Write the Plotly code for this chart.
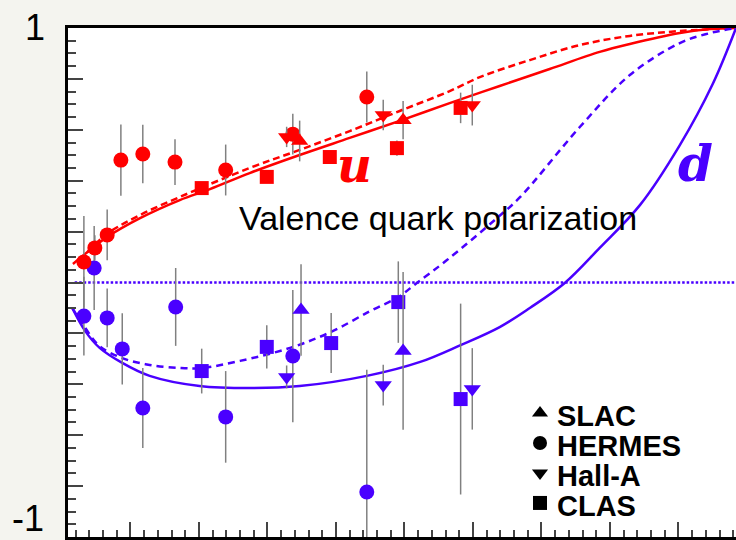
import plotly.graph_objects as go

RED = "#ff0000"
BLUE = "#4a00ff"
ERR = "#808080"

# ---------------- data ----------------
# u-quark points
slac_u_x = [0.347, 0.498]
slac_u_y = [0.556, 0.638]
slac_u_e = [0.080, 0.075]

hermes_u_x = [0.032, 0.048, 0.066, 0.086, 0.118, 0.165, 0.239, 0.337, 0.445]
hermes_u_y = [0.081, 0.136, 0.187, 0.481, 0.505, 0.473, 0.442, 0.583, 0.729]
hermes_u_e = [0.180, 0.050, 0.100, 0.140, 0.115, 0.090, 0.100, 0.080, 0.100]

halla_u_x = [0.328, 0.469, 0.599]
halla_u_y = [0.572, 0.658, 0.697]
halla_u_e = [0.040, 0.060, 0.080]

clas_u_x = [0.204, 0.299, 0.391, 0.489, 0.582]
clas_u_y = [0.371, 0.415, 0.493, 0.528, 0.686]
clas_u_e = [0.020, 0.020, 0.020, 0.030, 0.060]

# d-quark points
slac_d_x = [0.349, 0.498]
slac_d_y = [-0.108, -0.269]
slac_d_e = [0.180, 0.310]

hermes_d_x = [0.032, 0.047, 0.066, 0.088, 0.118, 0.166, 0.239, 0.337, 0.445]
hermes_d_y = [-0.132, 0.057, -0.139, -0.261, -0.493, -0.096, -0.528, -0.289, -0.823]
hermes_d_e = [0.155, 0.165, 0.115, 0.140, 0.157, 0.153, 0.180, 0.260, 0.480]

halla_d_x = [0.328, 0.469, 0.599]
halla_d_y = [-0.371, -0.403, -0.418]
halla_d_e = [0.045, 0.080, 0.160]

clas_d_x = [0.204, 0.299, 0.393, 0.491, 0.582]
clas_d_y = [-0.348, -0.253, -0.238, -0.077, -0.458]
clas_d_e = [0.088, 0.085, 0.118, 0.160, 0.375]

# model curves
u_solid_x = [0.016, 0.041, 0.066, 0.114, 0.172, 0.216, 0.274, 0.347, 0.420, 0.493,
             0.566, 0.639, 0.712, 0.785, 0.829, 0.902, 0.946, 0.984]
u_solid_y = [0.073, 0.128, 0.179, 0.253, 0.324, 0.367, 0.430, 0.501, 0.568, 0.635,
             0.705, 0.772, 0.839, 0.906, 0.937, 0.980, 0.996, 1.000]

u_dash_x = [0.026, 0.066, 0.114, 0.172, 0.274, 0.347, 0.420, 0.493, 0.566, 0.610,
            0.683, 0.756, 0.829, 0.902, 0.984]
u_dash_y = [0.088, 0.191, 0.265, 0.336, 0.450, 0.521, 0.595, 0.674, 0.752, 0.807,
            0.874, 0.933, 0.969, 0.988, 1.000]

d_solid_x = [0.015, 0.034, 0.055, 0.088, 0.128, 0.201, 0.274, 0.347, 0.445, 0.523,
             0.582, 0.639, 0.683, 0.734, 0.785, 0.844, 0.902, 0.950, 0.984]
d_solid_y = [-0.100, -0.191, -0.257, -0.316, -0.367, -0.407, -0.415, -0.407, -0.367, -0.312,
             -0.246, -0.175, -0.100, -0.002, 0.136, 0.305, 0.540, 0.780, 1.000]

d_dash_x = [0.015, 0.034, 0.055, 0.088, 0.128, 0.172, 0.204, 0.260, 0.333, 0.393, 0.450,
            0.491, 0.518, 0.562, 0.635, 0.669, 0.756, 0.829, 0.902, 0.946, 0.984]
d_dash_y = [-0.100, -0.179, -0.250, -0.297, -0.324, -0.336, -0.336, -0.308, -0.257, -0.194, -0.112,
            -0.057, -0.002, 0.088, 0.253, 0.336, 0.611, 0.815, 0.941, 0.980, 1.000]

legend_labels = ["SLAC", "HERMES", "Hall-A", "CLAS"]
legend_symbols = ["triangle-up", "circle", "triangle-down", "square"]

# ---------------- figure ----------------
fig = go.Figure()

def curve(x, y, color, dash):
    fig.add_trace(go.Scatter(x=x, y=y, mode="lines", line_shape="spline",
                             line=dict(color=color, width=2.5, dash=dash),
                             hoverinfo="skip", showlegend=False))

curve(u_dash_x, u_dash_y, RED, "7px,4px")
curve(u_solid_x, u_solid_y, RED, "solid")
curve(d_dash_x, d_dash_y, BLUE, "7px,5px")
curve(d_solid_x, d_solid_y, BLUE, "solid")

def points(x, y, e, color, symbol, size):
    fig.add_trace(go.Scatter(
        x=x, y=y, mode="markers",
        marker=dict(symbol=symbol, size=size, color=color, line=dict(width=0)),
        error_y=dict(type="data", array=e, visible=True, color=ERR, thickness=1.5, width=0),
        showlegend=False))

for col, sets in [
    (BLUE, [(hermes_d_x, hermes_d_y, hermes_d_e, "circle", 15),
            (clas_d_x, clas_d_y, clas_d_e, "square", 14),
            (slac_d_x, slac_d_y, slac_d_e, "triangle-up", 15),
            (halla_d_x, halla_d_y, halla_d_e, "triangle-down", 15)]),
    (RED, [(hermes_u_x, hermes_u_y, hermes_u_e, "circle", 15),
           (clas_u_x, clas_u_y, clas_u_e, "square", 14),
           (slac_u_x, slac_u_y, slac_u_e, "triangle-up", 15),
           (halla_u_x, halla_u_y, halla_u_e, "triangle-down", 15)]),
]:
    for (x, y, e, s, sz) in sets:
        points(x, y, e, col, s, sz)

# legend keys on an overlay axis spanning the plot area (0..1)
leg_x = 0.7066
leg_top = 0.2436
leg_step = 0.0589
leg_y = [leg_top - i * leg_step for i in range(len(legend_labels))]
fig.add_trace(go.Scatter(x=[leg_x] * len(legend_labels), y=leg_y, mode="markers",
                         marker=dict(symbol=legend_symbols, size=14, color="black"),
                         xaxis="x2", yaxis="y2", showlegend=False, hoverinfo="skip"))

annotations = []
for lab, yy in zip(legend_labels, leg_y):
    annotations.append(dict(text="<b>%s</b>" % lab, x=0.729, y=yy - 0.006, xref="paper", yref="paper",
                            xanchor="left", yanchor="middle", showarrow=False,
                            font=dict(family="Liberation Sans", size=29, color="black")))

annotations += [
    dict(text="Valence quark polarization", x=0.5546, y=0.627, xref="paper", yref="paper",
         xanchor="center", yanchor="middle", showarrow=False,
         font=dict(family="Liberation Sans", size=34, color="black")),
    dict(text="<b><i>u</i></b>", x=0.4296, y=0.731, xref="paper", yref="paper",
         xanchor="center", yanchor="middle", showarrow=False,
         font=dict(family="DejaVu Serif", size=48, color=RED)),
    dict(text="<b><i>d</i></b>", x=0.940, y=0.733, xref="paper", yref="paper",
         xanchor="center", yanchor="middle", showarrow=False,
         font=dict(family="DejaVu Serif", size=50, color=BLUE)),
    dict(text="1", x=-0.0494, y=1.001, xref="paper", yref="paper",
         xanchor="center", yanchor="middle", showarrow=False,
         font=dict(family="Liberation Sans", size=36, color="black")),
    dict(text="-1", x=-0.0599, y=0.036, xref="paper", yref="paper",
         xanchor="center", yanchor="middle", showarrow=False,
         font=dict(family="Liberation Sans", size=36, color="black")),
]

fig.update_layout(
    width=736, height=540,
    margin=dict(l=68, r=0, t=28, b=3),
    paper_bgcolor="#f4f4ef",
    plot_bgcolor="white",
    showlegend=False,
    annotations=annotations,
    shapes=[dict(type="line", xref="paper", yref="y", x0=0.01, x1=1.0, y0=0, y1=0,
                 line=dict(color=BLUE, width=2.5, dash="2.5px,2px"), layer="below")],
    xaxis=dict(range=[0.0088, 0.984], showgrid=False, zeroline=False,
               showline=True, linecolor="black", linewidth=3, mirror=True,
               ticks="inside", tick0=0, dtick=0.1, ticklen=15, tickwidth=1.5, tickcolor="#444",
               showticklabels=False,
               minor=dict(ticks="inside", tick0=0, dtick=0.02, ticklen=7, tickwidth=1.5,
                          tickcolor="#444", showgrid=False)),
    yaxis=dict(range=[-1, 1], showgrid=False, zeroline=False,
               showline=True, linecolor="black", linewidth=3,
               ticks="inside", tick0=-1, dtick=0.2, ticklen=15, tickwidth=1.5, tickcolor="#444",
               showticklabels=False,
               minor=dict(ticks="inside", tick0=-1, dtick=0.05, ticklen=8, tickwidth=1.5,
                          tickcolor="#444", showgrid=False)),
    xaxis2=dict(range=[0, 1], overlaying="x", visible=False, domain=[0, 1]),
    yaxis2=dict(range=[0, 1], overlaying="y", visible=False, domain=[0, 1]),
)

fig.write_html("out.html")
